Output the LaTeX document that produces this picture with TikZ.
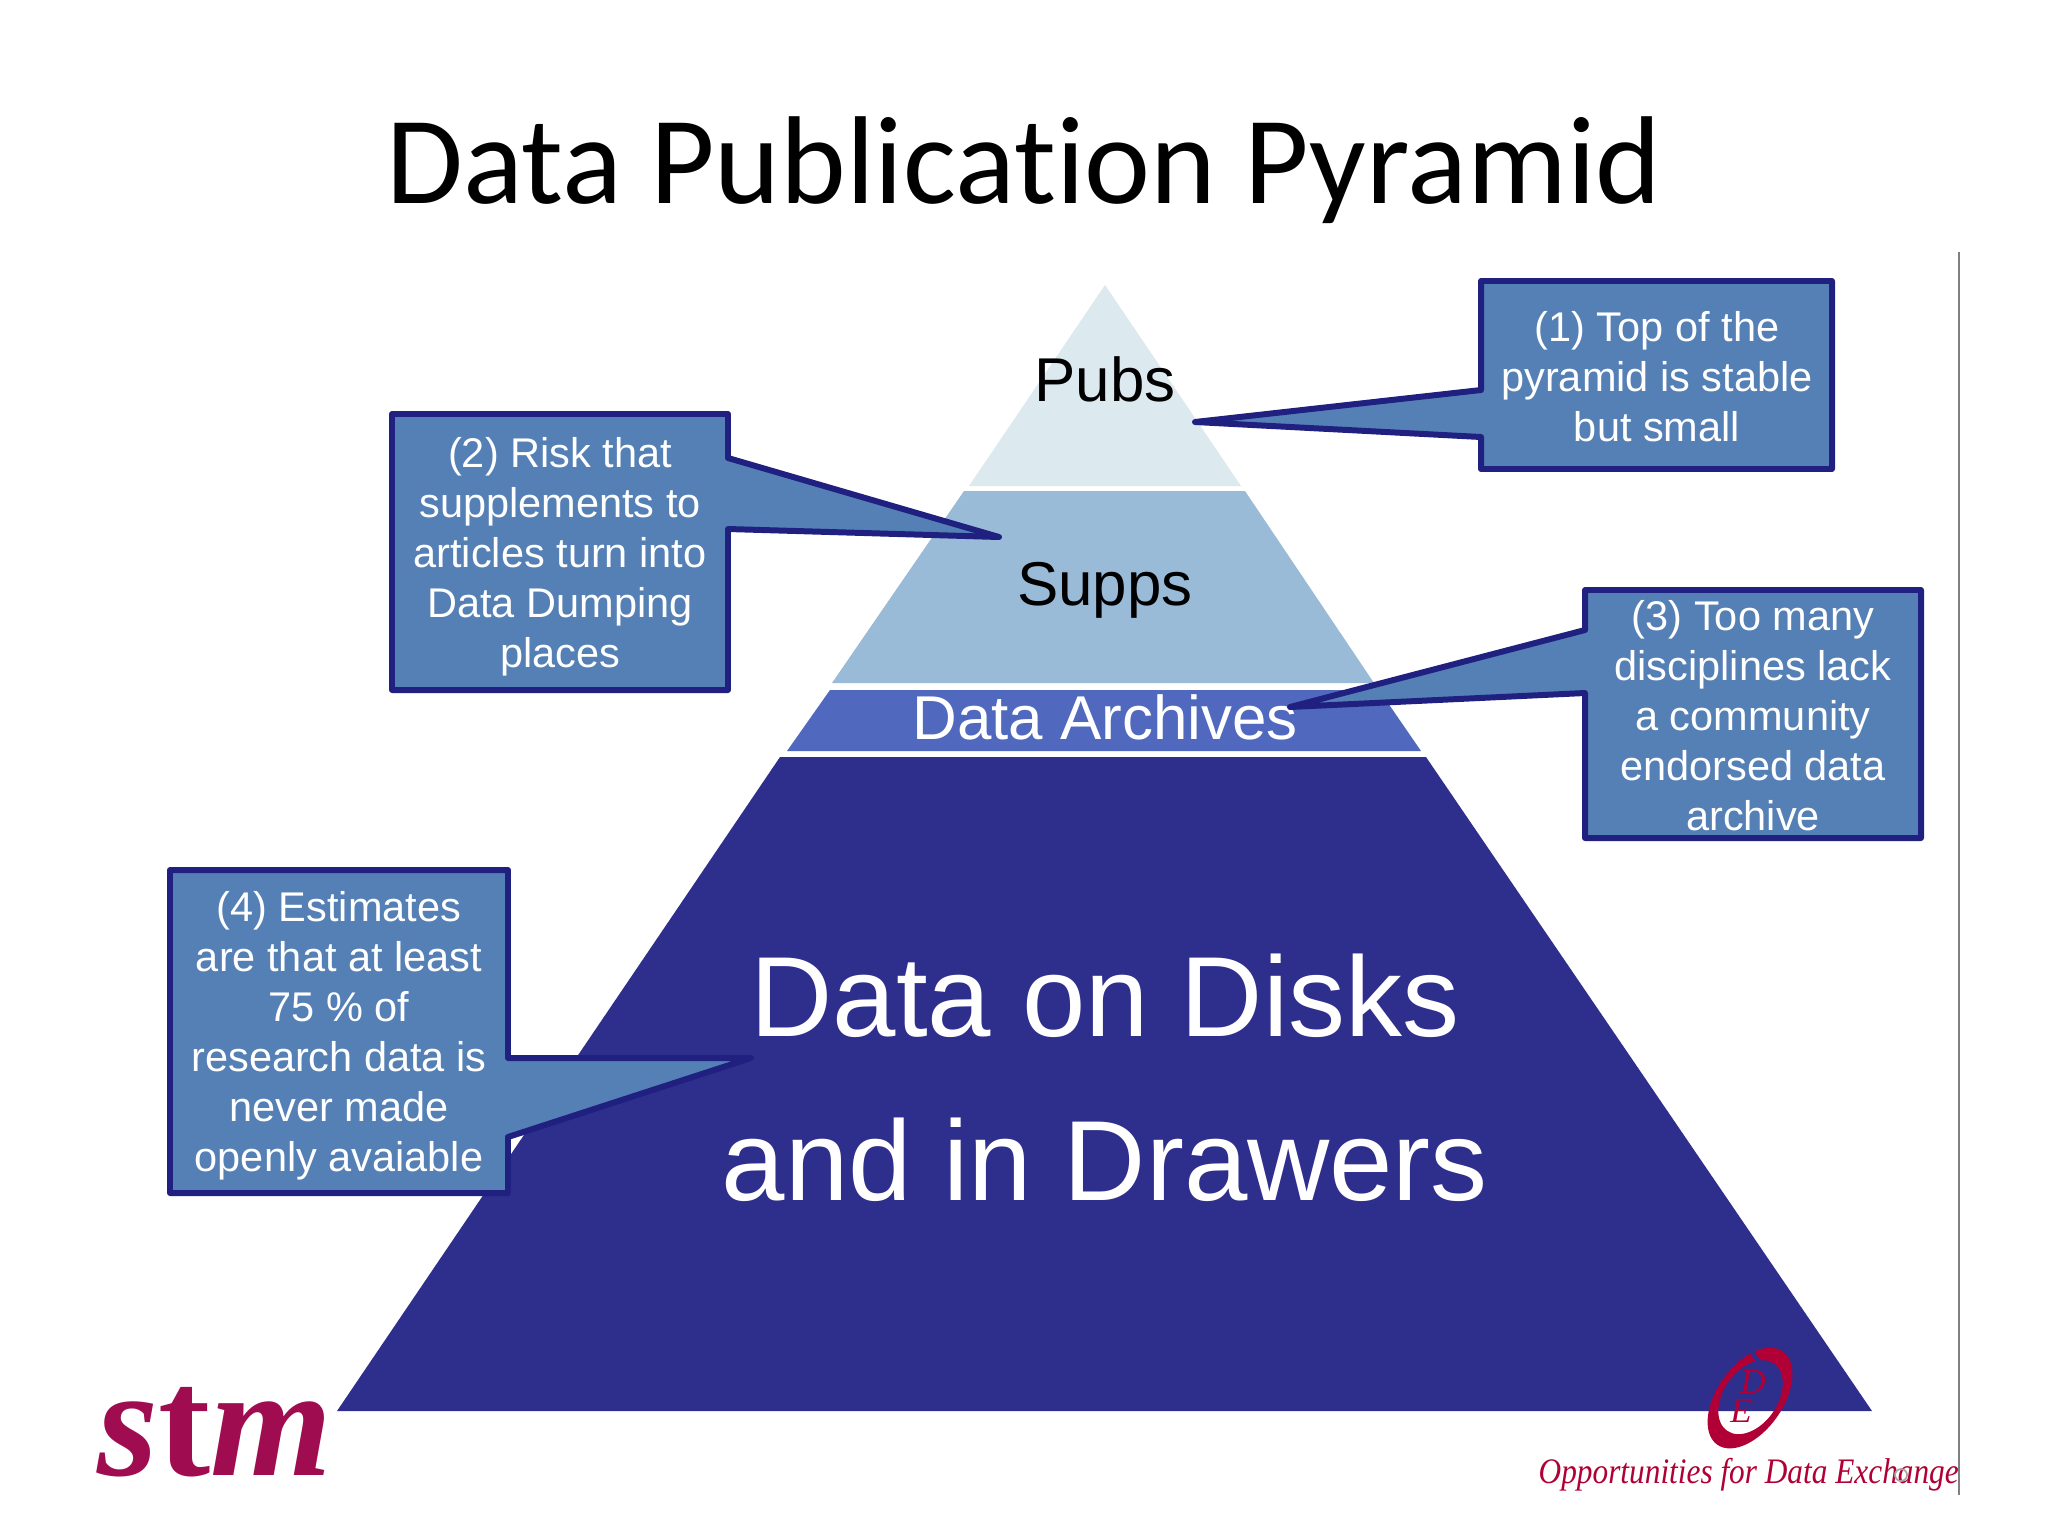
\documentclass[tikz,border=0pt]{standalone}
\usepackage{fontspec}
\setmainfont{Liberation Sans}
\newfontfamily\titlefont[Ligatures=NoCommon]{Carlito}
\newfontfamily\seriffont{Liberation Serif}
\newfontfamily\oppfont[FakeStretch=0.873]{Liberation Serif}
\definecolor{pubsc}{HTML}{DCE9EE}
\definecolor{suppsc}{HTML}{9ABBD8}
\definecolor{archc}{HTML}{5069BE}
\definecolor{diskc}{HTML}{2E2E8C}
\definecolor{callc}{HTML}{5580B5}
\definecolor{edgec}{HTML}{1F2080}
\definecolor{stmc}{HTML}{A00C50}
\definecolor{odec}{HTML}{B00035}
\tikzset{
  callshape/.style={fill=callc,draw=edgec,line width=1.7pt,line join=round},
  calltext/.style={text=white,align=center,inner sep=0pt,font=\fontsize{11.8}{14.2}\selectfont},
  band/.style={draw=none},
  pyrtext/.style={inner sep=0pt,font=\fontsize{17.6}{20}\selectfont},
}
\begin{document}
\begin{tikzpicture}[x=0.01cm,y=-0.01cm]
\useasboundingbox (0,0) rectangle (2048,1536);
\fill[white] (0,0) rectangle (2048,1536);
\node[anchor=base,inner sep=0pt,font=\titlefont\fontsize{35.55}{40}\selectfont] (title) at (1024,203) {Data Publication Pyramid};
% pyramid
\fill[band,pubsc] (1105,285) -- (1241,486) -- (969,486) -- cycle;
\fill[band,suppsc] (964,491) -- (1245,491) -- (1374,683) -- (832,683) -- cycle;
\fill[band,archc] (830,690) -- (1379,690) -- (1421,751) -- (787,751) -- cycle;
\fill[band,diskc] (780,757) -- (1426,757) -- (1872,1411) -- (337,1411) -- cycle;
\node[pyrtext] (pubs) at (1105,379) {Pubs};
\node[pyrtext] (supps) at (1105,590) {Supps};
\node[pyrtext,text=white] (arch) at (1105,717) {Data Archives};
\node[text=white,align=center,inner sep=0pt,font=\fontsize{32.4}{46.6}\selectfont] (disks) at (1105,1078) {Data on Disks\\and in Drawers};
% callouts
\draw[callshape] (1481,281) -- (1832,281) -- (1832,469) -- (1481,469) -- (1481,437) -- (1195,422) -- (1481,390) -- cycle;
\node[calltext] (c1) at (1657,377) {(1) Top of the\\pyramid is stable\\but small};
\draw[callshape] (392,414) -- (728,414) -- (728,458) -- (999,537) -- (728,529) -- (728,690) -- (392,690) -- cycle;
\node[calltext] (c2) at (560,557) {(2) Risk that\\supplements to\\articles turn into\\Data Dumping\\places};
\draw[callshape] (1585,590) -- (1921,590) -- (1921,838) -- (1585,838) -- (1585,693) -- (1290,707) -- (1585,630) -- cycle;
\node[calltext] (c3) at (1753,716) {(3) Too many\\disciplines lack\\a community\\endorsed data\\archive};
\draw[callshape] (170,870) -- (508,870) -- (508,1058) -- (751,1058) -- (508,1137) -- (508,1193) -- (170,1193) -- cycle;
\node[calltext] (c4) at (339,1036) {(4) Estimates\\are that at least\\75 \% of\\research data is\\never made\\openly avaiable};
% frame line
\draw[gray,line width=0.5pt] (1959,252) -- (1959,1495);
% stm logo
\node[anchor=base west,inner sep=0pt,text=stmc,font=\seriffont\bfseries\fontsize{44.5}{50}\selectfont] (stm) at (97,1475) {\itshape s\upshape t\itshape m};
% ODE logo
\fill[odec,even odd rule,rotate around={55:(1750,1398)}] (1750,1398) ellipse [x radius=57,y radius=33]
  (1751,1398) ellipse [x radius=41,y radius=27];
\draw[diskc,line width=1.2pt] (1752,1352) -- (1760,1364);
\node[inner sep=0pt,text=odec,font=\seriffont\itshape\fontsize{10}{10}\selectfont] (oded) at (1753,1382) {D};
\node[inner sep=0pt,text=odec,font=\seriffont\itshape\fontsize{10}{10}\selectfont] (odee) at (1741,1411) {E};
\node[anchor=base west,inner sep=0pt,text=odec,font=\oppfont\itshape\fontsize{10.2}{12}\selectfont] (opp) at (1538,1483) {Opportunities for Data Exchange};
\draw[gray!70,line width=0.5pt] (1901,1475) circle (6);
\end{tikzpicture}
\end{document}
